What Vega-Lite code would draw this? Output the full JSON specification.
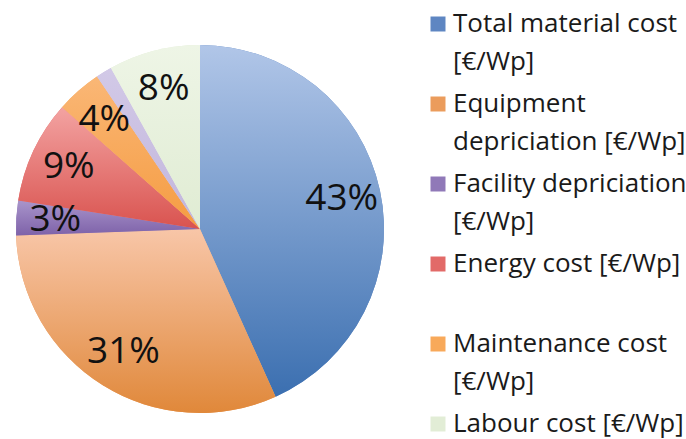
{
  "$schema": "https://vega.github.io/schema/vega-lite/v6.json",
  "width": 400,
  "height": 458,
  "autosize": "none",
  "padding": {"left": 0, "top": 0, "right": 286, "bottom": 0},
  "background": "white",
  "config": {"style": {"guide-label": {"lineHeight": 38}}},
  "data": {
    "values": [
      {"order": 1, "category": "Total material cost [€/Wp]", "value": 43.0, "label": "43%"},
      {"order": 2, "category": "Equipment depriciation [€/Wp]", "value": 31.0, "label": "31%"},
      {"order": 3, "category": "Facility depriciation [€/Wp]", "value": 3.0, "label": "3%"},
      {"order": 4, "category": "Energy cost [€/Wp]", "value": 9.0, "label": "9%"},
      {"order": 5, "category": "Maintenance cost [€/Wp]", "value": 4.0, "label": "4%"},
      {"order": 6, "category": "Other cost [€/Wp]", "value": 1.4, "label": ""},
      {"order": 7, "category": "Labour cost [€/Wp]", "value": 8.0, "label": "8%"}
    ]
  },
  "encoding": {
    "theta": {"field": "value", "type": "quantitative", "stack": true},
    "order": {"field": "order", "type": "quantitative"}
  },
  "layer": [
    {
      "mark": {"type": "arc", "radius": 184, "stroke": null},
      "encoding": {
        "color": {
          "field": "category",
          "type": "nominal",
          "sort": {"field": "order"},
          "scale": {
            "domain": ["Total material cost [€/Wp]", "Equipment depriciation [€/Wp]", "Facility depriciation [€/Wp]", "Energy cost [€/Wp]", "Maintenance cost [€/Wp]", "Other cost [€/Wp]", "Labour cost [€/Wp]"],
            "range": ["#5e86c2", "#eb9c5c", "#9079b8", "#e26a68", "#f8a95a", "#c9bde0", "#e2edd6"]
          },
          "legend": {
            "orient": "none",
            "legendX": 425,
            "legendY": 11,
            "title": null,
            "values": ["Total material cost [€/Wp]", "Equipment depriciation [€/Wp]", "Facility depriciation [€/Wp]", "Energy cost [€/Wp]", "Maintenance cost [€/Wp]", "Labour cost [€/Wp]"],
            "symbolType": "square",
            "symbolSize": 225,
            "symbolStrokeWidth": 0,
            "labelFont": "Open Sans",
            "labelFontSize": 26,
            "labelColor": "#1a1a1a",
            "labelOffset": 2,
            "labelLimit": 300,
            "rowPadding": 16,
            "labelExpr": "datum.value == 'Total material cost [€/Wp]' ? ['Total material cost', '[€/Wp]'] : datum.value == 'Equipment depriciation [€/Wp]' ? ['Equipment', 'depriciation [€/Wp]'] : datum.value == 'Facility depriciation [€/Wp]' ? ['Facility depriciation', '[€/Wp]'] : datum.value == 'Maintenance cost [€/Wp]' ? ['Maintenance cost', '[€/Wp]'] : [datum.value, ' ']"
          }
        }
      }
    },
    {
      "mark": {"type": "arc", "radius": 184, "stroke": null},
      "encoding": {
        "fill": {
          "condition": [
            {"test": "datum.order === 1", "value": {"gradient": "linear", "x1": 0, "y1": 0, "x2": 0, "y2": 1, "stops": [{"offset": 0, "color": "#b1c6e8"}, {"offset": 1, "color": "#3b6fb0"}]}},
            {"test": "datum.order === 2", "value": {"gradient": "linear", "x1": 0, "y1": 0, "x2": 0, "y2": 1, "stops": [{"offset": 0, "color": "#f8c6a8"}, {"offset": 1, "color": "#e0883a"}]}},
            {"test": "datum.order === 3", "value": {"gradient": "linear", "x1": 0, "y1": 0, "x2": 0, "y2": 1, "stops": [{"offset": 0, "color": "#a995cb"}, {"offset": 1, "color": "#7e62a9"}]}},
            {"test": "datum.order === 4", "value": {"gradient": "linear", "x1": 0, "y1": 0, "x2": 0, "y2": 1, "stops": [{"offset": 0, "color": "#f3a3a2"}, {"offset": 1, "color": "#d9534f"}]}},
            {"test": "datum.order === 5", "value": {"gradient": "linear", "x1": 0, "y1": 0, "x2": 0, "y2": 1, "stops": [{"offset": 0, "color": "#fab776"}, {"offset": 1, "color": "#f59c42"}]}},
            {"test": "datum.order === 6", "value": {"gradient": "linear", "x1": 0, "y1": 0, "x2": 0, "y2": 1, "stops": [{"offset": 0, "color": "#d2c9e7"}, {"offset": 1, "color": "#c2b6dc"}]}},
            {"test": "datum.order === 7", "value": {"gradient": "linear", "x1": 0, "y1": 0, "x2": 0, "y2": 1, "stops": [{"offset": 0, "color": "#eef5e6"}, {"offset": 1, "color": "#e0ecd3"}]}}
          ],
          "value": "#cccccc"
        }
      }
    },
    {
      "mark": {"type": "text", "radius": 145, "font": "Open Sans", "fontSize": 37, "color": "#111111"},
      "encoding": {"text": {"field": "label"}}
    }
  ]
}
